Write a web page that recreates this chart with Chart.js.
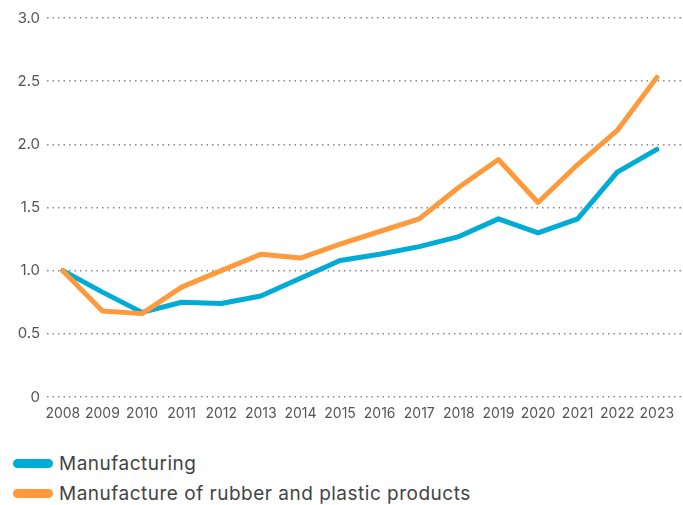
<!DOCTYPE html>
<html>
<head>
<meta charset="utf-8">
<script src="https://cdn.jsdelivr.net/npm/chart.js@4"></script>
<style>
  html, body { margin: 0; padding: 0; background: #fff; }
  #wrap { position: relative; width: 683px; height: 505px; font-family: Inter, "Noto Sans", sans-serif; }
  canvas { position: absolute; left: 0; top: 0; }
  .leg { position: absolute; left: 13px; display: flex; align-items: center; color: #444; font-size: 19px; letter-spacing: 0.5px; white-space: nowrap; }
  .leg .bar { width: 40px; height: 9px; border-radius: 5px; margin-right: 6px; }
</style>
</head>
<body>
<div id="wrap">
  <canvas id="c" width="683" height="430"></canvas>
  <div class="leg" style="top:452px"><span class="bar" id="b0"></span><span id="t0"></span></div>
  <div class="leg" style="top:482px"><span class="bar" id="b1"></span><span id="t1"></span></div>
</div>
<script>
const years = [2008, 2009, 2010, 2011, 2012, 2013, 2014, 2015, 2016, 2017, 2018, 2019, 2020, 2021, 2022, 2023];
const manufacturing = [1.00, 0.83, 0.67, 0.75, 0.74, 0.80, 0.94, 1.08, 1.13, 1.19, 1.27, 1.41, 1.30, 1.41, 1.78, 1.96];
const rubberPlastic = [1.00, 0.68, 0.66, 0.87, 1.00, 1.13, 1.10, 1.21, 1.31, 1.41, 1.66, 1.88, 1.54, 1.84, 2.11, 2.53];
const seriesNames = ["Manufacturing", "Manufacture of rubber and plastic products"];
const seriesColors = ["#00acd6", "#ff9a3c"];
const yTicks = [0, 0.5, 1.0, 1.5, 2.0, 2.5, 3.0];

const fontFamily = 'Inter, "Noto Sans", sans-serif';

[manufacturing, rubberPlastic].forEach((_, i) => {
  document.getElementById('b' + i).style.background = seriesColors[i];
  document.getElementById('t' + i).textContent = seriesNames[i];
});

const mk = (vals, i) => ({
  label: seriesNames[i],
  data: years.map((y, k) => ({ x: y, y: vals[k] })),
  borderColor: seriesColors[i],
  backgroundColor: seriesColors[i],
  borderWidth: 5,
  pointRadius: 0,
  tension: 0,
  borderJoinStyle: 'round',
  borderCapStyle: 'round',
  fill: false
});

new Chart(document.getElementById('c'), {
  type: 'line',
  data: { datasets: [mk(rubberPlastic, 1), mk(manufacturing, 0)] },
  options: {
    responsive: false,
    animation: false,
    devicePixelRatio: 1,
    layout: { padding: { top: 18, right: 0, left: 0, bottom: 0 } },
    plugins: { legend: { display: false }, tooltip: { enabled: false } },
    scales: {
      x: {
        type: 'linear',
        min: 2007.6,
        max: 2023.66,
        afterBuildTicks: (s) => { s.ticks = years.map(v => ({ value: v })); },
        afterFit: (s) => { s.height = 33; },
        grid: { display: false, drawTicks: false },
        border: { display: false },
        ticks: {
          autoSkip: false,
          maxRotation: 0,
          padding: 8,
          color: '#555',
          font: { family: fontFamily, size: 14 },
          callback: (v) => String(v)
        }
      },
      y: {
        min: 0,
        max: 3,
        afterBuildTicks: (s) => { s.ticks = yTicks.map(v => ({ value: v })); },
        afterFit: (s) => { s.width = 47; },
        grid: { color: '#888', lineWidth: 1.5, drawTicks: false },
        border: { display: false, dash: [1.5, 4] },
        ticks: {
          padding: 7,
          color: '#555',
          font: { family: fontFamily, size: 15 },
          callback: (v) => v === 0 ? '0' : v.toFixed(1)
        }
      }
    }
  }
});
</script>
</body>
</html>
